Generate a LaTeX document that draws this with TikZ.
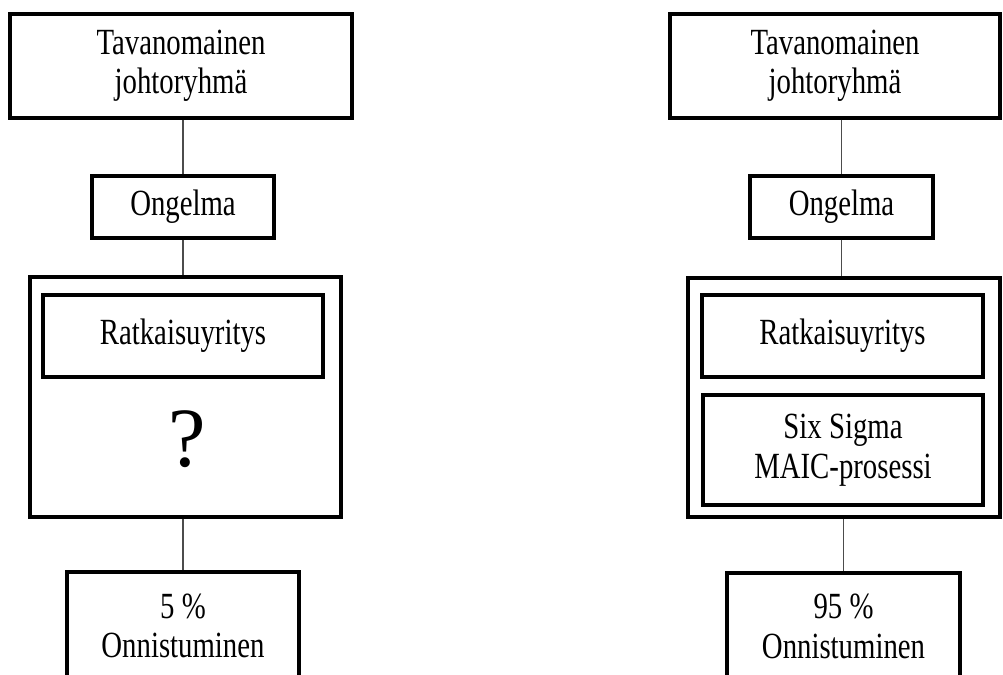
\documentclass[tikz,border=0pt]{standalone}
\usepackage{fontspec}
\setmainfont{Liberation Serif}[FakeStretch=0.78]
\newfontfamily\markfont{Liberation Serif}
\usepackage{tikz}
\usetikzlibrary{positioning}
\tikzset{
    box/.style = {draw, line width=2pt, align=center, inner sep=0pt,
        font=\fontsize{21}{22.5}\selectfont},
    link/.style = {draw=black!70, line width=1pt},
    bigmark/.style = {inner sep=0pt, font=\markfont\fontsize{48}{50}\selectfont}
}

\begin{document}
\begin{tikzpicture}[x=0.02cm, y=-0.02cm]
    \clip (0, 0) rectangle (1003, 675);
    % left column
    \node [style=box, minimum width=6.84cm, minimum height=2.08cm] (0) at (181, 66) {Tavanomainen\\johtoryhmä};
    \node [style=box, minimum width=3.64cm, minimum height=1.24cm] (1) at (183, 207) {Ongelma};
    \node [style=box, minimum width=6.22cm, minimum height=4.8cm] (2) at (185.5, 397) {};
    \node [style=box, minimum width=5.6cm, minimum height=1.64cm] (3) at (183, 336) {Ratkaisuyritys};
    \node [style=bigmark] (4) at (187, 439) {?};
    \node [style=box, minimum width=4.64cm, minimum height=2.16cm] (5) at (183, 626) {5 \%\\Onnistuminen};
    % right column
    \node [style=box, minimum width=6.6cm, minimum height=2.08cm] (6) at (835, 66) {Tavanomainen\\johtoryhmä};
    \node [style=box, minimum width=3.66cm, minimum height=1.24cm] (7) at (841.5, 207) {Ongelma};
    \node [style=box, minimum width=6.24cm, minimum height=4.78cm] (8) at (844, 397.5) {};
    \node [style=box, minimum width=5.62cm, minimum height=1.64cm] (9) at (842.5, 336) {Ratkaisuyritys};
    \node [style=box, minimum width=5.6cm, minimum height=2.2cm] (10) at (843, 450) {Six Sigma\\MAIC-prosessi};
    \node [style=box, minimum width=4.66cm, minimum height=2.14cm] (11) at (843.5, 626.5) {95 \%\\Onnistuminen};
    % connectors
    \draw [style=link] (1 |- 0.south) to (1.north);
    \draw [style=link] (1.south) to (1 |- 2.north);
    \draw [style=link] (5 |- 2.south) to (5.north);
    \draw [style=link] (7 |- 6.south) to (7.north);
    \draw [style=link] (7.south) to (7 |- 8.north);
    \draw [style=link] (11 |- 8.south) to (11.north);
\end{tikzpicture}
\end{document}
